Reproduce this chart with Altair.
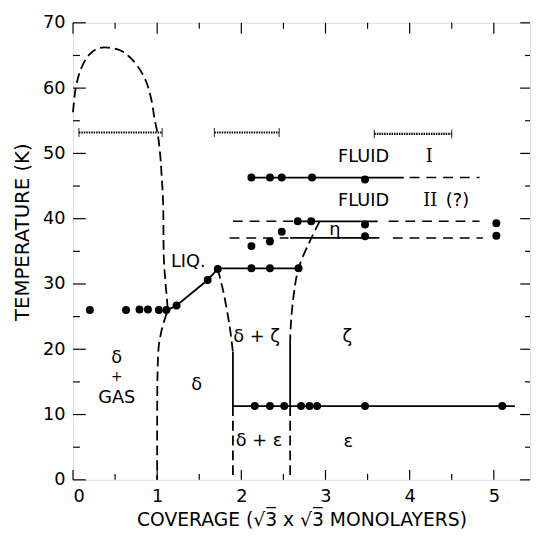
import altair as alt
import pandas as pd

# ---------------- data ----------------
# measured points (coverage, temperature)
pt_x = [0.20, 0.63, 0.79, 0.89, 1.02, 1.11, 1.23, 1.60, 1.72,
        2.12, 2.34, 2.68,
        2.12, 2.34, 2.48, 2.84, 3.47,
        2.12, 2.34, 2.48, 2.67, 2.83, 3.47, 3.47, 5.03, 5.03,
        2.16, 2.34, 2.51, 2.71, 2.81, 2.90, 3.47, 5.10]
pt_y = [26.0, 26.0, 26.1, 26.1, 26.0, 26.0, 26.7, 30.6, 32.3,
        32.4, 32.4, 32.4,
        46.3, 46.3, 46.3, 46.3, 46.0,
        35.8, 36.5, 38.0, 39.6, 39.6, 39.1, 37.3, 39.3, 37.4,
        11.3, 11.3, 11.3, 11.3, 11.3, 11.3, 11.3, 11.3]

# solid phase boundaries
liq_rise_x = [1.12, 1.23, 1.60, 1.72]
liq_rise_y = [26.0, 26.7, 30.6, 32.3]
liq_top_x = [1.72, 2.68]
liq_top_y = [32.4, 32.4]
fluid1_x = [2.12, 3.93]
fluid1_y = [46.3, 46.3]
eta_up_x = [2.64, 3.62]
eta_up_y = [39.6, 39.6]
eta_lo_x = [2.58, 3.64]
eta_lo_y = [37.05, 37.05]
eps_x = [1.90, 5.25]
eps_y = [11.3, 11.3]
vleft_x = [1.90, 1.90]
vleft_y = [19.6, 11.3]
vright_x = [2.58, 2.58]
vright_y = [21.0, 11.3]

# dashed phase boundaries (curved)
dome_x = [0.00, 0.03, 0.09, 0.19, 0.30, 0.42, 0.56, 0.67, 0.77, 0.86, 0.93, 0.97,
          1.01, 1.04, 1.05, 1.07, 1.08, 1.10, 1.12, 1.09, 1.06, 1.02, 1.005, 1.00, 1.00]
dome_y = [56.3, 59.8, 62.8, 65.1, 66.1, 66.2, 65.8, 64.8, 63.3, 61.3, 58.3, 55.2,
          52.7, 49.2, 47.2, 42.7, 33.6, 30.0, 26.0, 24.6, 23.3, 20.6, 16.6, 10.0, 0.0]
delta_x = [1.72, 1.79, 1.86, 1.90]
delta_y = [32.3, 28.6, 23.6, 19.6]
zeta_x = [2.93, 2.82, 2.68, 2.62, 2.585, 2.58]
zeta_y = [39.6, 36.7, 32.4, 28.1, 23.1, 21.0]
# dashed straight boundaries
de_left_x = [1.90, 1.90]
de_left_y = [11.3, 0.0]
de_right_x = [2.58, 2.58]
de_right_y = [11.3, 0.0]
fluid1d_x = [4.00, 4.83]
fluid1d_y = [46.3, 46.3]
eta_up_l_x = [1.90, 2.62]
eta_up_l_y = [39.6, 39.6]
eta_up_r_x = [3.75, 4.83]
eta_up_r_y = [39.6, 39.6]
eta_lo_l_x = [1.86, 2.56]
eta_lo_l_y = [37.05, 37.05]
eta_lo_r_x = [3.80, 4.87]
eta_lo_r_y = [37.05, 37.05]

# error ranges (wavy bars) near T = 53 K
bar_x1 = [0.07, 1.68, 3.58]
bar_x2 = [1.06, 2.45, 4.50]
bar_y = [53.2, 53.2, 53.0]

# region labels
lab_text = ["FLUID", "FLUID", "(?)", "η", "LIQ.", "δ + ζ", "ζ", "δ", "GAS",
            "δ", "δ + ε", "ε"]
lab_x = [3.15, 3.15, 4.43, 3.11, 1.37, 2.18, 3.26, 0.52, 0.52, 1.47, 2.21, 3.27]
lab_y = [49.4, 42.7, 42.7, 38.2, 33.3, 21.9, 21.9, 18.6, 12.5, 14.5, 6.0, 5.8]
lab_align = ["left", "left", "left", "center", "center", "center", "center",
             "center", "center", "center", "center", "center"]
plus_text = ["+"]
plus_x = [0.52]
plus_y = [15.7]
roman_text = ["I", "II"]
roman_x = [4.19, 4.16]
roman_y = [49.4, 42.7]

# axis ticks
x_major = [0, 1, 2, 3, 4, 5]
x_minor = [0.5, 1.5, 2.5, 3.5, 4.5]
y_major = [0, 10, 20, 30, 40, 50, 60, 70]
y_minor = [5, 15, 25, 35, 45, 55, 65]

# ---------------- chart ----------------
W, H = 464, 464
FONT = "DejaVu Sans"
xs = alt.Scale(domain=[0, 5.43], nice=False, zero=False)
ys = alt.Scale(domain=[0, 70], nice=False, zero=False)
x_axis = alt.Axis(values=x_major, ticks=False, domain=False, grid=False,
                  labelFontSize=18, labelPadding=8, labelFont=FONT, labelColor="black",
                  title="COVERAGE (√3̅ x √3̅ MONOLAYERS)", titleFont=FONT,
                  titleFontSize=19, titleFontWeight="normal", titlePadding=5,
                  titleColor="black")
y_axis = alt.Axis(values=y_major, ticks=False, domain=False, grid=False,
                  labelFontSize=18, labelPadding=8, labelFont=FONT, labelColor="black",
                  title="TEMPERATURE (K)", titleFont=FONT, titleFontSize=20,
                  titleFontWeight="normal", titlePadding=10, titleColor="black",
                  titleY=212)
X = alt.X("x:Q", scale=xs, axis=x_axis)
Y = alt.Y("y:Q", scale=ys, axis=y_axis)


def seg_frame(segs):
    rows = []
    for name, (xx, yy) in segs.items():
        for i, (a, b) in enumerate(zip(xx, yy)):
            rows.append({"seg": name, "o": i, "x": a, "y": b})
    return pd.DataFrame(rows)


solid = seg_frame({
    "liq_rise": (liq_rise_x, liq_rise_y), "liq_top": (liq_top_x, liq_top_y),
    "fluid1": (fluid1_x, fluid1_y), "eta_up": (eta_up_x, eta_up_y),
    "eta_lo": (eta_lo_x, eta_lo_y), "eps": (eps_x, eps_y),
    "vleft": (vleft_x, vleft_y), "vright": (vright_x, vright_y),
})
dashed_curve = seg_frame({
    "dome": (dome_x, dome_y), "delta": (delta_x, delta_y), "zeta": (zeta_x, zeta_y),
})
dashed_v = seg_frame({
    "de_left": (de_left_x, de_left_y), "de_right": (de_right_x, de_right_y),
})
dashed_h = seg_frame({
    "fluid1d": (fluid1d_x, fluid1d_y), "eta_up_l": (eta_up_l_x, eta_up_l_y),
    "eta_up_r": (eta_up_r_x, eta_up_r_y), "eta_lo_l": (eta_lo_l_x, eta_lo_l_y),
    "eta_lo_r": (eta_lo_r_x, eta_lo_r_y),
})

solid_l = alt.Chart(solid).mark_line(color="black", strokeWidth=1.8).encode(
    x=X, y=Y, detail="seg:N", order="o:Q")
dashed_c = alt.Chart(dashed_curve).mark_line(color="black", strokeWidth=1.8,
                                             strokeDash=[10, 5],
                                             interpolate="catmull-rom").encode(
    x=X, y=Y, detail="seg:N", order="o:Q")
dashed_vl = alt.Chart(dashed_v).mark_line(color="black", strokeWidth=1.8,
                                          strokeDash=[10, 5]).encode(
    x=X, y=Y, detail="seg:N", order="o:Q")
dashed_hl = alt.Chart(dashed_h).mark_line(color="black", strokeWidth=1.6,
                                          strokeDash=[10, 7]).encode(
    x=X, y=Y, detail="seg:N", order="o:Q")

pts = alt.Chart(pd.DataFrame({"x": pt_x, "y": pt_y})).mark_point(
    filled=True, color="black", size=65, opacity=1).encode(x=X, y=Y)

bars_df = pd.DataFrame({"x": bar_x1, "x2": bar_x2, "y": bar_y})
bars = alt.Chart(bars_df).mark_rule(color="black", strokeWidth=2.2,
                                    strokeDash=[1.5, 1]).encode(x=X, x2="x2:Q", y=Y)
caps_df = pd.DataFrame({"x": bar_x1 + bar_x2, "y": bar_y + bar_y})
caps = alt.Chart(caps_df).mark_tick(color="black", orient="vertical", size=9,
                                    thickness=1.2).encode(x=X, y=Y)

lab_df = pd.DataFrame({"x": lab_x, "y": lab_y, "t": lab_text, "a": lab_align})
labs_left = alt.Chart(lab_df[lab_df["a"] == "left"]).mark_text(
    font=FONT, fontSize=18, color="black", align="left").encode(x=X, y=Y, text="t:N")
labs_center = alt.Chart(lab_df[lab_df["a"] == "center"]).mark_text(
    font=FONT, fontSize=18, color="black", align="center").encode(x=X, y=Y, text="t:N")
plus = alt.Chart(pd.DataFrame({"x": plus_x, "y": plus_y, "t": plus_text})).mark_text(
    font=FONT, fontSize=14, color="black", align="center").encode(x=X, y=Y, text="t:N")
roman = alt.Chart(pd.DataFrame({"x": roman_x, "y": roman_y, "t": roman_text})).mark_text(
    font="DejaVu Serif", fontSize=18, color="black", align="left").encode(
    x=X, y=Y, text="t:N")


# inward ticks on all four sides
def hticks(vals, x0, x1):
    return alt.Chart(pd.DataFrame({"y": vals})).mark_rule(
        color="black", strokeWidth=1.2).encode(y=Y, x=alt.value(x0), x2=alt.value(x1))


def vticks(vals, y0, y1):
    return alt.Chart(pd.DataFrame({"x": vals})).mark_rule(
        color="black", strokeWidth=1.2).encode(x=X, y=alt.value(y0), y2=alt.value(y1))


ticks = [
    hticks(y_major, 0, 13), hticks(y_minor, 0, 7),
    hticks(y_major, W, W - 10), hticks(y_minor, W, W - 5),
    vticks(x_major, H, H - 10), vticks(x_minor, H, H - 6),
    vticks(x_major, 0, 11), vticks(x_minor, 0, 6),
]

chart = alt.layer(
    dashed_c, dashed_vl, dashed_hl, solid_l, bars, caps, pts,
    labs_left, labs_center, plus, roman, *ticks
).properties(
    width=W, height=H, autosize="none",
    padding={"left": 66, "top": 11, "right": 1, "bottom": 55},
).configure_view(stroke="black", strokeWidth=1.3).configure(background="white")

chart.save("out.html", embed_options={"renderer": "svg", "actions": False})
